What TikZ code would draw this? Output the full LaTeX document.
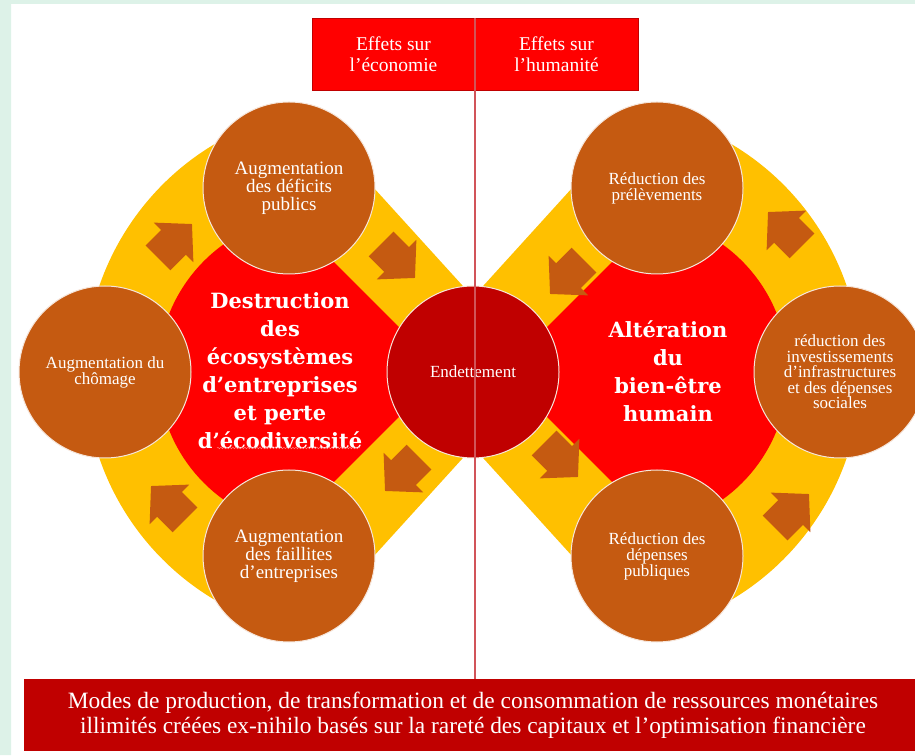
\documentclass[tikz,border=0pt]{standalone}
\usepackage{fontspec}
\setmainfont{Liberation Serif}
\newfontfamily\grasfamille{DejaVu Serif}
\usetikzlibrary{decorations.pathmorphing}
\definecolor{jaune}{HTML}{FFC000}
\definecolor{brun}{HTML}{C55A11}
\definecolor{rouge}{HTML}{FF0000}
\definecolor{bordeaux}{HTML}{C00000}
\definecolor{menthe}{HTML}{DDF2E8}
\definecolor{lignerose}{rgb}{0.82,0.33,0.35}
\tikzset{bulle/.style={circle, fill=brun, draw=white!85!brun, line width=1,
         minimum size=172, inner sep=0pt, text=white, align=center,
         font=\fontsize{17}{16}\selectfont},
         grand/.style={font=\fontsize{19}{18}\selectfont},
         coeur/.style={text=white, align=center,
         font=\grasfamille\bfseries\fontsize{21}{28}\selectfont},
         entete/.style={rectangle, fill=rouge, draw=bordeaux, line width=0.8,
         minimum width=163, minimum height=72, text=white, align=center,
         font=\fontsize{19.5}{21}\selectfont},
         socle/.style={rectangle, fill=bordeaux, minimum width=898, minimum height=72,
         text=white, align=center, font=\fontsize{23.4}{25}\selectfont},
         fleche/.pic={\fill[brun] (-24,-17.5) -- (-2,-17.5) -- (-2,-28) -- (24,0)
         -- (-2,28) -- (-2,17.5) -- (-24,17.5) -- cycle;}}

\begin{document}
\begin{tikzpicture}[x=1pt,y=1pt]
  \useasboundingbox (0,0) rectangle (915,755);
  \fill[white] (0,0) rectangle (915,755);
  \fill[menthe] (0,0) rectangle (11,755) (0,751) rectangle (915,755);
  % anneaux jaunes et coeurs rouges
  \fill[jaune] (541,383) -- ([shift={(350,383)}]100:265)
    arc[start angle=100, end angle=260, radius=265] -- cycle;
  \fill[jaune] (405,383) -- ([shift={(596,383)}]80:265)
    arc[start angle=80, end angle=-80, radius=265] -- cycle;
  \fill[rouge] (444,383) -- ([shift={(315,383)}]99.5:157)
    arc[start angle=99.5, end angle=260.5, radius=157] -- cycle;
  \fill[rouge] (502,383) -- ([shift={(631,383)}]80.5:157)
    arc[start angle=80.5, end angle=-80.5, radius=157] -- cycle;
  \foreach \x/\y/\a in {175/514/45, 398/494/-45, 402/281/-135, 168/252/135,
                        567/478/-135, 785/526/135, 561/295/-45, 792/244/45}
    \pic[rotate=\a] at (\x,\y) {fleche};
  \node[coeur] (destruction) at (280,384) {Destruction\\des\\écosystèmes\\d’entreprises\\et perte\\d’écodiversité};
  \node[coeur] (alteration) at (668,384) {Altération\\du\\bien-être\\humain};
  \draw[decorate, decoration={snake, amplitude=0.8, segment length=3}, red!45!white]
    (217,307) -- (360,307);
  \node[bulle, grand] (deficits) at (289,567) {Augmentation\\des déficits\\publics};
  \node[bulle] (chomage) at (105,383) {Augmentation du\\chômage};
  \node[bulle, grand] (faillites) at (289,199) {Augmentation\\des faillites\\d’entreprises};
  \node[bulle, fill=bordeaux] (endettement) at (473,383) {Endettement};
  \node[bulle] (prelevements) at (657,567) {Réduction des\\prélèvements};
  \node[bulle, font=\fontsize{17}{15.5}\selectfont] (investissements) at (840,383)
    {réduction des\\investissements\\d’infrastructures\\et des dépenses\\sociales};
  \node[bulle] (depenses) at (657,199) {Réduction des\\dépenses\\publiques};
  \node[entete] (economie) at (393.5,701) {Effets sur\\l’économie};
  \node[entete] (humanite) at (556.5,701) {Effets sur\\l’humanité};
  \node[socle] (base) at (473,40) {Modes de production, de transformation et de consommation de ressources monétaires\\illimités créées ex-nihilo basés sur la rareté des capitaux et l’optimisation financière};
  \fill[lignerose] ([xshift=-1]economie.north east) rectangle ([xshift=1]economie.north east |- base.north);
\end{tikzpicture}
\end{document}
